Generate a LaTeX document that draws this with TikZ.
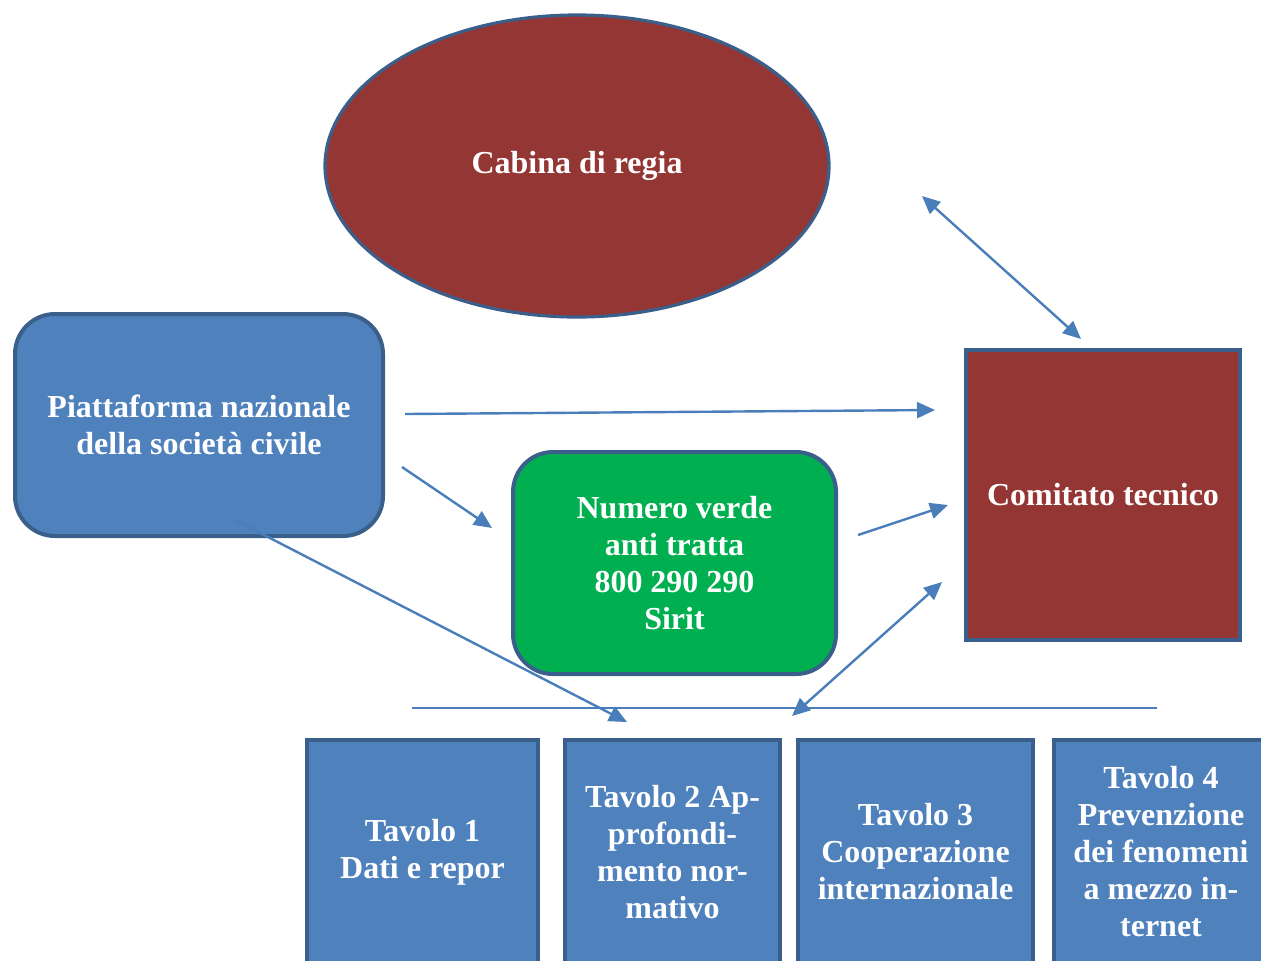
\documentclass[tikz,border=0pt]{standalone}
\usepackage{fontspec}
\setmainfont{Liberation Serif}
\usetikzlibrary{arrows.meta,shapes.geometric}
\definecolor{boxblue}{HTML}{4F81BD}
\definecolor{edgeblue}{HTML}{3A5F8B}
\definecolor{boxred}{HTML}{943634}
\definecolor{boxgreen}{HTML}{00B050}
\definecolor{arrowblue}{HTML}{4A7EBB}
\begin{document}
\begin{tikzpicture}[x=0.5pt,y=-0.5pt,
  lbl/.style={text=white,font=\fontsize{16}{18.5}\selectfont\bfseries,align=center,inner sep=0pt},
  rbox/.style={lbl,draw=edgeblue,line width=2pt,rounded corners=20pt},
  sbox/.style={lbl,draw=edgeblue,line width=2pt},
  tbox/.style={sbox,fill=boxblue,minimum height=112pt},
  conn/.style={draw=arrowblue,line width=1.2pt},
  tip/.style={conn,-{Triangle[length=9pt,width=8pt]}},
  dtip/.style={conn,{Triangle[length=9pt,width=8pt]}-{Triangle[length=9pt,width=8pt]}}]
\useasboundingbox (0,0) rectangle (1261,960);
\clip (0,0) rectangle (1261,960);
% coordinates for arrow ends
\coordinate (c1a) at (922,196);
\coordinate (c1b) at (1081,339);
\coordinate (c2a) at (405,414);
\coordinate (c2b) at (935,410);
\coordinate (c3a) at (402,467);
\coordinate (c3b) at (492,528);
\coordinate (c4a) at (858,535);
\coordinate (c4b) at (948,505);
\coordinate (c5a) at (942,582);
\coordinate (c5b) at (792,716);
\coordinate (c6a) at (235,520);
\coordinate (c6b) at (627,722);
\coordinate (h1) at (412,708);
\coordinate (h2) at (1157,708);

\node[ellipse,lbl,draw=edgeblue,line width=1.6pt,fill=boxred,
      minimum width=252pt,minimum height=151pt] (cabina) at (577,166) {Cabina di regia};
\node[rbox,fill=boxblue,minimum width=184pt,minimum height=111pt] (piatt) at (199,425)
  {Piattaforma nazionale\\della società civile};
\draw[tip] (c6a) -- (c6b);
\node[rbox,fill=boxgreen,minimum width=161.5pt,minimum height=111pt] (numero) at (674.5,563)
  {Numero verde\\anti tratta\\800 290 290\\Sirit};
\node[sbox,fill=boxred,minimum width=137pt,minimum height=145pt] (comitato) at (1103,495)
  {Comitato tecnico};
\node[tbox,minimum width=115.5pt] (t1) at (422.5,852) {Tavolo 1\\Dati e repor};
\node[tbox,minimum width=107.5pt] (t2) at (672.5,852) {Tavolo 2 Ap-\\profondi-\\mento nor-\\mativo};
\node[tbox,minimum width=117.5pt] (t3) at (915.5,852) {Tavolo 3\\Cooperazione\\internazionale};
\node[tbox,minimum width=107pt] (t4) at (1161,852) {Tavolo 4\\Prevenzione\\dei fenomeni\\a mezzo in-\\ternet};

\draw[dtip] (c1a) -- (c1b);
\draw[tip] (c2a) -- (c2b);
\draw[tip] (c3a) -- (c3b);
\draw[tip] (c4a) -- (c4b);
\draw[conn,line width=1.4pt] (h1) -- (h2);
\draw[dtip] (c5a) -- (c5b);
\end{tikzpicture}
\end{document}
